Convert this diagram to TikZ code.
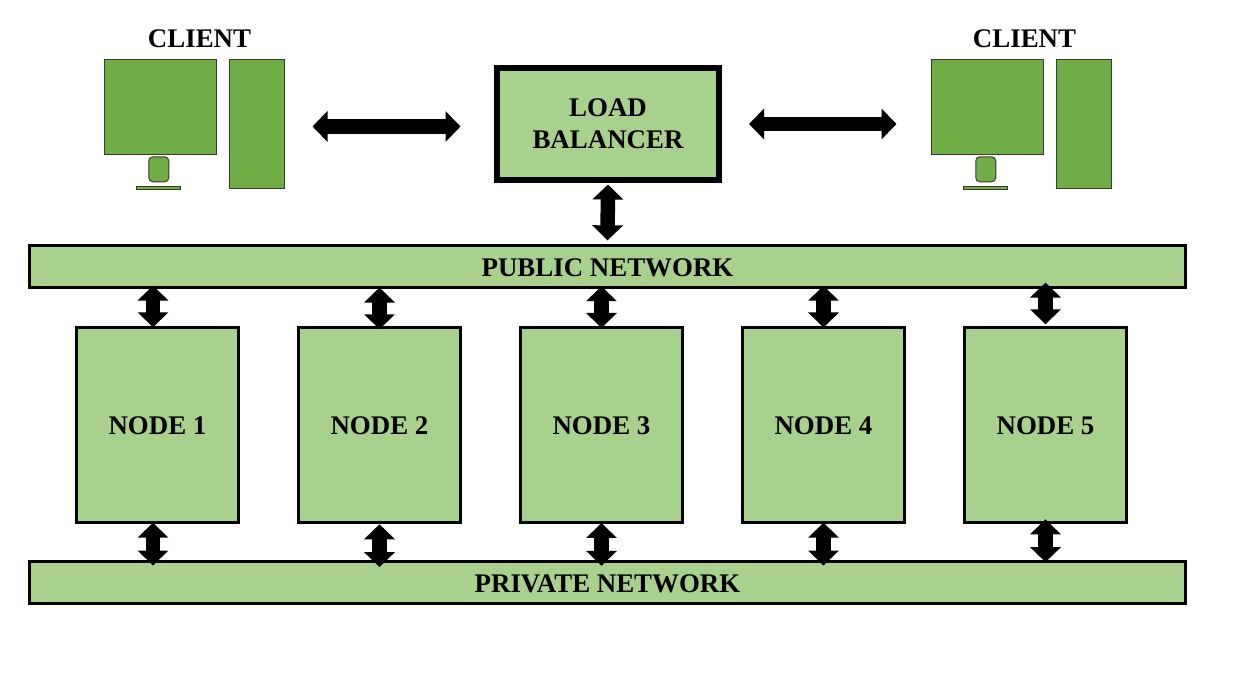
\documentclass[tikz,border=0pt]{standalone}
\usepackage{fontspec}
\setmainfont{Liberation Serif}
\usetikzlibrary{positioning, calc, arrows.meta}

\definecolor{boxgreen}{HTML}{A9D18E}
\definecolor{pcgreen}{HTML}{70AD47}
\definecolor{pcline}{HTML}{3A3A2A}

\tikzset{
    netbox/.style={draw=black, line width=0.06cm, fill=boxgreen, font=\bfseries\fontsize{15.3}{17}\selectfont, align=center, inner sep=0pt},
    hostbox/.style={netbox, text height=0.40cm, minimum width=3.24cm, minimum height=3.90cm},
    barbox/.style={netbox, text height=0.41cm, minimum width=23.12cm, minimum height=0.834cm},
    pcpart/.style={draw=pcline, line width=0.02cm, fill=pcgreen, inner sep=0pt},
    clientlabel/.style={font=\bfseries\fontsize{15.3}{17}\selectfont, inner sep=0pt},
    biarrow/.style={line width=0.29cm, {Triangle[length=0.3cm, width=0.6cm]}-{Triangle[length=0.3cm, width=0.6cm]}},
}

\begin{document}
\begin{tikzpicture}
    \useasboundingbox (0, 0) rectangle (24.88, 13.54);

    % Networks
    \node[barbox] (public) at (12.15, 8.216) {PUBLIC NETWORK};
    \node[barbox] (private) at (12.15, 1.894) {PRIVATE NETWORK};

    % Load balancer
    \node[netbox, line width=0.12cm, minimum width=4.44cm, minimum height=2.24cm] (lb) at (12.16, 11.06) {LOAD\\[0.05cm]BALANCER};

    % Left client
    \node[pcpart, minimum width=2.24cm, minimum height=1.90cm] (screenl) at (3.2, 11.404) {};
    \node[pcpart, minimum width=1.10cm, minimum height=2.58cm] (towerl) at (5.14, 11.06) {};
    \node[pcpart, rounded corners=0.08cm, minimum width=0.40cm, minimum height=0.50cm, below=0.03cm of screenl, xshift=-0.025cm] (standl) {};
    \node[pcpart, minimum width=0.88cm, minimum height=0.06cm, below=0.07cm of standl] (basel) {};
    \node[clientlabel, above=0.22cm of screenl.north, xshift=0.79cm] (clientl) {CLIENT};

    % Right client
    \node[pcpart, minimum width=2.24cm, minimum height=1.90cm] (screenr) at (19.74, 11.404) {};
    \node[pcpart, minimum width=1.10cm, minimum height=2.58cm] (towerr) at (21.68, 11.06) {};
    \node[pcpart, rounded corners=0.08cm, minimum width=0.40cm, minimum height=0.50cm, below=0.03cm of screenr, xshift=-0.025cm] (standr) {};
    \node[pcpart, minimum width=0.88cm, minimum height=0.06cm, below=0.07cm of standr] (baser) {};
    \node[clientlabel, above=0.22cm of screenr.north, xshift=0.75cm] (clientr) {CLIENT};

    % Arrows to the load balancer
    \draw[biarrow, shorten <=0.55cm, shorten >=0.67cm] ($(towerl.east |- lb.west)+(0, -0.05)$) -- ($(lb.west)+(0, -0.05)$);
    \draw[biarrow, shorten <=0.54cm, shorten >=0.68cm] (lb.east) -- (screenr.west |- lb.east);
    \draw[biarrow] ($(lb.south)+(0, -0.03)$) -- ($(public.north)+(0, 0.07)$);

    % Cluster nodes and their arrows
    \foreach \n/\x/\dx/\up/\dn in {1/3.15/-0.09/-0.026/0.026, 2/7.59/0/-0.066/-0.006, 3/12.03/0/-0.04/0.02, 4/16.47/0/-0.03/0.026, 5/20.91/0/0.034/0.094} {
        \node[hostbox] (node\n) at (\x, 5.04) {NODE \n};
        \draw[biarrow] ($(node\n.north |- public.south)+(\dx, \up+0.086)$) -- ($(node\n.north)+(\dx, \up)$);
        \draw[biarrow] ($(node\n.south)+(\dx, \dn)$) -- ($(node\n.south |- private.north)+(\dx, -0.112+\dn-0.026)$);
    }

\end{tikzpicture}
\end{document}
